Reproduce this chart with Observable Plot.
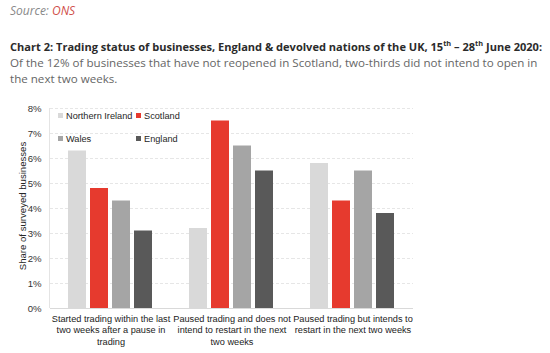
<!DOCTYPE html>
<html><head><meta charset="utf-8">
<script src="https://cdn.jsdelivr.net/npm/d3@7"></script>
<script src="https://cdn.jsdelivr.net/npm/@observablehq/plot@0.6"></script>
<style>
body{margin:0;background:#fff;width:550px;height:353px;position:relative;overflow:hidden;}
.hd{position:absolute;left:10px;font-family:"Open Sans",sans-serif;white-space:nowrap;}
#src{top:2px;font-size:12px;font-style:italic;color:#888;}
#src span{color:#d0504a;}
#title{top:39px;font-size:11.05px;font-weight:700;color:#2b2b2b;}
#title sup{font-size:7.4px;line-height:0;}
#sub{top:55px;font-size:11.6px;color:#666;line-height:15.5px;}
#chart{position:absolute;left:0;top:95px;}
#legend{position:absolute;left:55px;top:111px;font-family:"Liberation Sans",Arial,sans-serif;font-size:9.2px;color:#262626;}
#legend .it{position:absolute;white-space:nowrap;}
#legend .sw{display:inline-block;width:5px;height:5px;margin-right:3px;vertical-align:1px;}
#ytitle{position:absolute;left:22px;top:206px;transform:translate(-50%,-50%) rotate(-90deg);font-family:"Liberation Sans",Arial,sans-serif;font-size:9.6px;color:#262626;white-space:nowrap;}
#vline{position:absolute;left:49px;top:108px;width:1px;height:200px;background:#e4e4e4;}
</style></head>
<body>
<div class="hd" id="src">Source: <span>ONS</span></div>
<div class="hd" id="title">Chart 2: Trading status of businesses, England &amp; devolved nations of the UK, 15<sup>th</sup> – 28<sup>th</sup> June 2020:</div>
<div class="hd" id="sub">Of the 12% of businesses that have not reopened in Scotland, two-thirds did not intend to open in<br>the next two weeks.</div>
<div id="vline"></div>
<div id="chart"></div>
<div id="legend"></div>
<div id="ytitle">Share of surveyed businesses</div>
<script>
const categories = [
  "Started trading within the last\ntwo weeks after a pause in\ntrading",
  "Paused trading and does not\nintend to restart in the next\ntwo weeks",
  "Paused trading but intends to\nrestart in the next two weeks"
];
const series = ["Northern Ireland", "Scotland", "Wales", "England"];
const colors = ["#d9d9d9", "#e63a2e", "#a5a5a5", "#595959"];
const northernIreland = [6.3, 3.2, 5.8];
const scotland = [4.8, 7.5, 4.3];
const wales = [4.3, 6.5, 5.5];
const england = [3.1, 5.5, 3.8];
const yTicks = [0, 1, 2, 3, 4, 5, 6, 7, 8];

const valuesBySeries = [northernIreland, scotland, wales, england];
const data = [];
categories.forEach((c, i) => series.forEach((s, j) => data.push({category: c, series: s, value: valuesBySeries[j][i]})));

const font = '"Liberation Sans", Arial, sans-serif';
const plot = Plot.plot({
  width: 550, height: 258,
  marginLeft: 50, marginRight: 137, marginTop: 13, marginBottom: 45,
  style: {fontFamily: font, fontSize: "9.5px", color: "#333", background: "transparent"},
  fx: {domain: categories, padding: 0, label: null},
  x: {domain: series, paddingInner: 0.18, paddingOuter: 0.83, axis: null},
  y: {domain: [0, 8], label: null},
  color: {domain: series, range: colors},
  marks: [
    Plot.gridY(yTicks, {stroke: "#e6e6e6", strokeOpacity: 1, strokeDasharray: "3,2"}),
    Plot.barY(data, {fx: "category", x: "series", y: "value", fill: "series"}),
    Plot.ruleY([0], {stroke: "#d9d9d9"}),
    Plot.axisY(yTicks, {tickSize: 0, tickPadding: 9, tickFormat: d => d + "%", fontSize: 9.6, fill: "#333", label: null}),
    Plot.axisFx({anchor: "bottom", tickSize: 0, tickPadding: 5, fontSize: 9.2, fill: "#222", label: null, lineHeight: 1.25})
  ]
});
document.getElementById("chart").appendChild(plot);

const lg = document.getElementById("legend");
const pos = [[3, 0], [81, 0], [3, 23], [81, 23]];
series.forEach((s, i) => {
  const d = document.createElement("div");
  d.className = "it";
  d.style.left = pos[i][0] + "px";
  d.style.top = pos[i][1] + "px";
  d.innerHTML = `<span class="sw" style="background:${colors[i]}"></span>${s}`;
  lg.appendChild(d);
});
</script>
</body></html>
